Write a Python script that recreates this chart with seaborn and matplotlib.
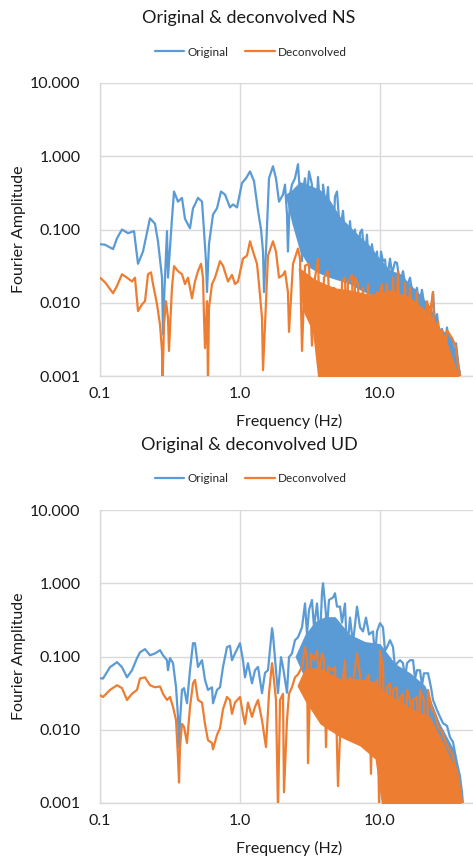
import numpy as np
import matplotlib
matplotlib.use("Agg")
import matplotlib.pyplot as plt
from matplotlib.ticker import NullLocator, FixedLocator, FixedFormatter
import seaborn as sns

# ---------------- DATA ----------------
series_names = ["Original", "Deconvolved"]
panel_titles = ["Original & deconvolved NS", "Original & deconvolved UD"]
x_ticks = [0.1, 1.0, 10.0]
x_tick_labels = ["0.1", "1.0", "10.0"]
y_ticks = [0.001, 0.01, 0.1, 1.0, 10.0]
y_tick_labels = ["0.001", "0.010", "0.100", "1.000", "10.000"]

# NS - Original
ns_orig_f = [0.1, 0.1086, 0.1239, 0.1323, 0.1436, 0.1585, 0.175, 0.1868, 0.2028, 0.2276, 0.247, 0.2596,
             0.2773, 0.2818, 0.2865, 0.301, 0.306, 0.3266, 0.3378, 0.3606, 0.385, 0.4046, 0.4394, 0.4616,
             0.477, 0.501, 0.5354, 0.5534, 0.5715, 0.581, 0.6003, 0.6414, 0.685, 0.7315, 0.7814, 0.848,
             0.891, 0.952, 1.033, 1.104, 1.179, 1.259, 1.345, 1.413, 1.46, 1.484, 1.533, 1.611, 1.72,
             1.807, 1.9, 2.028, 2.096, 2.166, 2.2, 2.275, 2.35, 2.47, 2.596, 2.683, 2.773, 2.818, 2.913,
             3.01, 3.11, 3.266, 3.434, 3.606, 3.727, 3.85, 3.917, 4.115, 4.253, 4.39, 4.54, 4.77, 4.93,
             5.18, 5.44, 5.623, 5.81, 6.105, 6.31, 6.63, 6.96, 7.2, 7.44, 7.81, 8.07, 8.48, 8.76, 9.21,
             9.52, 9.84, 10.16, 10.5, 10.86, 11.22, 11.79, 12.18, 12.8, 13.22, 13.89, 14.6, 15.34, 16.38,
             17.21, 18.37, 18.99, 19.95, 20.96, 21.66, 22.76, 23.91, 24.7, 25.55, 26.83, 27.73, 29.1,
             30.1, 31.62, 32.66, 33.8, 34.9, 36.06, 37.28, 38.5]
ns_orig_a = [0.063, 0.062, 0.054, 0.076, 0.1, 0.089, 0.095, 0.034, 0.05, 0.142, 0.12, 0.069,
             0.022, 0.0037, 0.0105, 0.095, 0.022, 0.14, 0.33, 0.24, 0.27, 0.14, 0.104, 0.195,
             0.22, 0.27, 0.24, 0.095, 0.037, 0.014, 0.063, 0.16, 0.195, 0.33, 0.3, 0.2,
             0.22, 0.2, 0.43, 0.5, 0.62, 0.46, 0.18, 0.1, 0.05, 0.014, 0.05, 0.5, 0.73,
             0.5, 0.24, 0.3, 0.41, 0.16, 0.05, 0.3, 0.41, 0.5, 0.78, 0.3, 0.037, 0.35, 0.5,
             0.25, 0.62, 0.41, 0.058, 0.52, 0.2, 0.05, 0.41, 0.2, 0.38, 0.12, 0.03, 0.28, 0.33,
             0.09, 0.18, 0.08, 0.022, 0.13, 0.06, 0.1, 0.018, 0.09, 0.1, 0.04, 0.085, 0.018, 0.063, 0.03,
             0.05, 0.014, 0.05, 0.037, 0.039, 0.02, 0.04, 0.025, 0.036, 0.035, 0.018, 0.027, 0.015, 0.022,
             0.012, 0.016, 0.009, 0.015, 0.008, 0.0095, 0.006, 0.014, 0.005, 0.007, 0.003, 0.0044, 0.0025,
             0.0046, 0.002, 0.0033, 0.0018, 0.0028, 0.0016, 0.001, 0.0008]
ns_orig_band_f = [2.1, 2.35, 2.68, 3.16, 3.73, 4.39, 5.18, 6.1, 7.2, 8.48, 10.0, 11.79, 13.89, 16.38,
                  19.31, 22.76, 26.83, 31.62, 37.28]
ns_orig_band_lo = [0.3, 0.12, 0.05, 0.03, 0.025, 0.022, 0.02, 0.018, 0.015, 0.013, 0.011, 0.009, 0.007,
                   0.005, 0.004, 0.003, 0.002, 0.0012, 0.0009]
ns_orig_band_hi = [0.3, 0.35, 0.45, 0.4, 0.35, 0.25, 0.15, 0.11, 0.08, 0.06, 0.04, 0.028, 0.025,
                   0.018, 0.013, 0.009, 0.0045, 0.0035, 0.0012]

# NS - Deconvolved
ns_dec_f = [0.1, 0.1086, 0.114, 0.1239, 0.1323, 0.1436, 0.156, 0.1693, 0.1778, 0.1868, 0.1995, 0.2096,
            0.2202, 0.2313, 0.2391, 0.2555, 0.2683, 0.2773, 0.2796, 0.2865, 0.296, 0.306, 0.311, 0.3266,
            0.3378, 0.3606, 0.385, 0.4046, 0.4253, 0.454, 0.477, 0.501, 0.5266, 0.544, 0.5534, 0.5623,
            0.581, 0.5905, 0.6003, 0.631, 0.663, 0.7197, 0.7561, 0.821, 0.8764, 0.921, 0.968, 1.05,
            1.122, 1.179, 1.239, 1.322, 1.367, 1.436, 1.46, 1.509, 1.585, 1.72, 1.807, 1.9, 2.028,
            2.096, 2.2, 2.239, 2.391, 2.596, 2.683, 2.773, 2.913, 3.11, 3.266, 3.434, 3.606, 3.79,
            3.98, 4.253, 4.467, 4.69, 5.01, 5.18, 5.354, 5.623, 5.81, 5.9, 6.31, 6.52, 6.63, 6.96,
            7.2, 7.56, 7.81, 8.21, 8.48, 8.76, 9.06, 9.52, 10.0, 10.33, 10.68, 11.22, 11.79, 12.39,
            12.8, 13.45, 13.89, 15.09, 15.6, 16.38, 17.21, 18.37, 18.99, 19.95, 20.6, 21.66, 22.76,
            23.91, 24.7, 25.96, 26.83, 27.73, 29.1, 30.1, 32.66, 34.9, 36.06, 37.28, 37.9]
ns_dec_a = [0.022, 0.019, 0.0168, 0.0135, 0.017, 0.0245, 0.022, 0.0195, 0.022, 0.0077, 0.0095, 0.0105,
            0.0245, 0.026, 0.018, 0.0095, 0.005, 0.0022, 0.0008, 0.005, 0.0105, 0.0062, 0.0022, 0.016,
            0.0316, 0.027, 0.0245, 0.018, 0.022, 0.0115, 0.0195, 0.027, 0.034, 0.022, 0.0062, 0.0024,
            0.0105, 0.0008, 0.0085, 0.018, 0.022, 0.037, 0.032, 0.0195, 0.024, 0.018, 0.0195, 0.04,
            0.044, 0.069, 0.05, 0.034, 0.018, 0.0062, 0.0012, 0.005, 0.044, 0.069, 0.05, 0.022, 0.024,
            0.027, 0.014, 0.004, 0.034, 0.055, 0.04, 0.0022, 0.032, 0.034, 0.0026, 0.022, 0.04, 0.0013,
            0.022, 0.027, 0.0022, 0.016, 0.013, 0.0015, 0.0195, 0.022, 0.002, 0.0195, 0.024, 0.0015, 0.022, 0.018,
            0.003, 0.016, 0.0012, 0.018, 0.004, 0.013, 0.0015, 0.014, 0.013, 0.018, 0.002, 0.018, 0.0015, 0.022,
            0.003, 0.027, 0.001, 0.019, 0.002, 0.016, 0.0012, 0.014, 0.002, 0.0085, 0.0012, 0.0105, 0.0068,
            0.014, 0.0015, 0.0056, 0.0012, 0.0042, 0.0015, 0.0042, 0.0033, 0.0025, 0.0014, 0.001, 0.0008]
ns_dec_band_f = [2.6, 2.8, 3.3, 3.6, 4.77, 6.1, 8.48, 11.79, 16.38, 22.76, 29.1, 37.28]
ns_dec_band_lo = [0.03, 0.008, 0.004, 0.0009, 0.0009, 0.0009, 0.0009, 0.0009, 0.0009, 0.0009, 0.0009, 0.0009]
ns_dec_band_hi = [0.03, 0.028, 0.022, 0.02, 0.016, 0.015, 0.013, 0.015, 0.012, 0.007, 0.0035, 0.0009]

# UD - Original
ud_orig_f = [0.1, 0.1051, 0.1179, 0.1323, 0.1436, 0.156, 0.1693, 0.1838, 0.1931, 0.2096, 0.2276, 0.247,
             0.2683, 0.2818, 0.301, 0.306, 0.3162, 0.3323, 0.3492, 0.3606, 0.3667, 0.3728, 0.385, 0.3981,
             0.4182, 0.4394, 0.4616, 0.477, 0.501, 0.5354, 0.5623, 0.5905, 0.631, 0.6414, 0.685, 0.7197,
             0.7561, 0.8076, 0.848, 0.8764, 0.921, 1.0, 1.05, 1.086, 1.14, 1.218, 1.28, 1.345, 1.436,
             1.509, 1.585, 1.693, 1.72, 1.807, 1.868, 1.963, 2.028, 2.166, 2.239, 2.35, 2.47, 2.596,
             2.773, 2.913, 3.01, 3.11, 3.266, 3.378, 3.548, 3.727, 3.85, 3.917, 4.05, 4.182, 4.322,
             4.62, 4.77, 4.93, 5.18, 5.354, 5.623, 5.81, 6.105, 6.41, 6.85, 7.2, 7.56, 7.94, 8.35,
             8.91, 9.21, 9.52, 10.0, 10.5, 10.86, 11.22, 11.79, 12.39, 12.8, 13.22, 13.89, 14.6, 15.09,
             15.6, 16.38, 17.21, 17.78, 18.37, 19.31, 19.95, 20.6, 22.03, 23.13, 23.91, 25.55, 26.83,
             28.18, 30.1, 31.62, 33.2, 35.48, 37.28, 38.5, 39.1, 39.8]
ud_orig_a = [0.0506, 0.05, 0.0715, 0.0837, 0.0715, 0.052, 0.065, 0.095, 0.114, 0.126, 0.104, 0.11,
             0.122, 0.104, 0.089, 0.065, 0.095, 0.081, 0.038, 0.015, 0.0058, 0.013, 0.035, 0.037,
             0.023, 0.065, 0.152, 0.152, 0.072, 0.089, 0.048, 0.035, 0.038, 0.023, 0.035, 0.038,
             0.072, 0.134, 0.14, 0.089, 0.11, 0.152, 0.089, 0.052, 0.081, 0.043, 0.065, 0.072, 0.0316,
             0.06, 0.065, 0.243, 0.2, 0.065, 0.0316, 0.098, 0.072, 0.032, 0.098, 0.11, 0.167, 0.183,
             0.25, 0.53, 0.2, 0.43, 0.59, 0.25, 0.53, 0.167, 0.73, 1.0, 0.53, 0.25, 0.59,
             0.64, 0.73, 0.48, 0.48, 0.29, 0.53, 0.11, 0.34, 0.152, 0.48, 0.25, 0.22, 0.34, 0.2,
             0.22, 0.1, 0.22, 0.285, 0.25, 0.12, 0.134, 0.167, 0.134, 0.07, 0.081, 0.089, 0.081, 0.05,
             0.081, 0.089, 0.089, 0.05, 0.065, 0.065, 0.04, 0.059, 0.059, 0.038, 0.0255, 0.0185, 0.015,
             0.0123, 0.0113, 0.0079, 0.0068, 0.0035, 0.0023, 0.0014, 0.001, 0.0008]
ud_orig_band_f = [2.47, 2.91, 3.43, 4.05, 4.77, 6.1, 7.81, 10.0, 12.8, 16.38, 20.96, 26.83, 34.3, 39.1]
ud_orig_band_lo = [0.1, 0.05, 0.035, 0.03, 0.03, 0.025, 0.02, 0.015, 0.008, 0.004, 0.002, 0.0009, 0.0009, 0.0009]
ud_orig_band_hi = [0.1, 0.2, 0.3, 0.35, 0.35, 0.2, 0.16, 0.15, 0.08, 0.06, 0.04, 0.012, 0.005, 0.0009]

# UD - Deconvolved
ud_dec_f = [0.1, 0.1051, 0.1179, 0.1323, 0.1436, 0.156, 0.1693, 0.1838, 0.1931, 0.2096, 0.2276, 0.247,
            0.2683, 0.2818, 0.301, 0.3162, 0.3323, 0.3492, 0.3606, 0.3667, 0.3728, 0.385, 0.3981, 0.4182,
            0.4394, 0.4616, 0.477, 0.501, 0.5354, 0.5623, 0.5905, 0.631, 0.6414, 0.685, 0.7197, 0.7561,
            0.8076, 0.848, 0.8764, 0.921, 1.0, 1.05, 1.086, 1.14, 1.218, 1.28, 1.345, 1.436, 1.533,
            1.611, 1.693, 1.72, 1.807, 1.868, 1.931, 2.028, 2.061, 2.166, 2.239, 2.35, 2.47, 2.596,
            2.773, 2.913, 3.01, 3.06, 3.215, 3.378, 3.548, 3.667, 3.85, 3.98, 4.115, 4.253, 4.54,
            4.77, 5.01, 5.354, 5.623, 5.81, 6.105, 6.41, 6.85, 7.2, 7.56, 7.94, 8.35, 8.62, 8.91,
            9.52, 9.84, 10.0, 10.5, 10.86, 11.22, 11.79, 12.18, 12.39, 13.22, 13.67, 13.89, 14.6,
            15.09, 15.6, 16.38, 16.93, 17.21, 18.37, 18.99, 19.31, 20.6, 21.31, 22.03, 23.5, 24.7,
            25.96, 27.73, 29.1, 30.6, 32.66, 34.3, 36.06, 37.9, 38.5, 39.1]
ud_dec_a = [0.0296, 0.028, 0.035, 0.0405, 0.037, 0.0255, 0.031, 0.035, 0.05, 0.052, 0.0405, 0.038,
            0.039, 0.031, 0.0255, 0.028, 0.0205, 0.0135, 0.0042, 0.0019, 0.0058, 0.012, 0.011, 0.0066,
            0.0205, 0.043, 0.048, 0.0255, 0.0235, 0.012, 0.0072, 0.0066, 0.0054, 0.0085, 0.0105, 0.019,
            0.028, 0.0255, 0.0165, 0.0235, 0.028, 0.0165, 0.012, 0.0235, 0.015, 0.0205, 0.0255, 0.0135, 0.0058,
            0.031, 0.081, 0.065, 0.0255, 0.0008, 0.0255, 0.031, 0.0014, 0.0135, 0.031, 0.038, 0.052, 0.057,
            0.072, 0.134, 0.089, 0.0035, 0.11, 0.089, 0.12, 0.052, 0.11, 0.089, 0.0058, 0.072, 0.065,
            0.072, 0.0017, 0.038, 0.089, 0.011, 0.052, 0.043, 0.11, 0.057, 0.0058, 0.048, 0.057, 0.0025, 0.038,
            0.048, 0.001, 0.12, 0.072, 0.002, 0.038, 0.043, 0.0012, 0.035, 0.038, 0.0015, 0.028, 0.031,
            0.001, 0.035, 0.0255, 0.0012, 0.0255, 0.028, 0.0015, 0.035, 0.0255, 0.001, 0.035, 0.019, 0.0165,
            0.011, 0.0093, 0.0072, 0.0058, 0.0047, 0.0033, 0.0024, 0.0013, 0.001, 0.0008]
ud_dec_band_f = [2.55, 2.91, 3.73, 5.18, 7.2, 9.21, 10.3, 16.38, 22.76, 29.1, 34.3, 38.5]
ud_dec_band_lo = [0.04, 0.025, 0.012, 0.008, 0.006, 0.004, 0.0009, 0.0009, 0.0009, 0.0009, 0.0009, 0.0009]
ud_dec_band_hi = [0.04, 0.07, 0.07, 0.05, 0.05, 0.045, 0.035, 0.02, 0.015, 0.006, 0.003, 0.0009]

# ---------------- STYLE ----------------
sns.set_style("white")
plt.rcParams["font.family"] = ["Lato", "DejaVu Sans"]

BLUE = "#5B9BD5"
ORANGE = "#ED7D31"
GRID = "#D9D9D9"
TXT = "#1a1a1a"

W, H = 473, 857
fig = plt.figure(figsize=(W / 100, H / 100), dpi=100)

x_min, x_max = 0.1, 50.0
dec_px = 140.0
ax_w_px = dec_px * np.log10(x_max / x_min)
ax_h_px = 293.0

panels = [
    dict(title=panel_titles[0], top=83,
         orig=(ns_orig_f, ns_orig_a), orig_band=(ns_orig_band_f, ns_orig_band_lo, ns_orig_band_hi),
         dec=(ns_dec_f, ns_dec_a), dec_band=(ns_dec_band_f, ns_dec_band_lo, ns_dec_band_hi)),
    dict(title=panel_titles[1], top=510,
         orig=(ud_orig_f, ud_orig_a), orig_band=(ud_orig_band_f, ud_orig_band_lo, ud_orig_band_hi),
         dec=(ud_dec_f, ud_dec_a), dec_band=(ud_dec_band_f, ud_dec_band_lo, ud_dec_band_hi)),
]

for p in panels:
    top = p["top"]
    ax = fig.add_axes([100 / W, 1 - (top + ax_h_px) / H, ax_w_px / W, ax_h_px / H])
    ax.set_xscale("log")
    ax.set_yscale("log")

    bf, blo, bhi = p["orig_band"]
    ax.fill_between(bf, blo, bhi, color=BLUE, linewidth=0, zorder=2)
    sns.lineplot(x=p["orig"][0], y=p["orig"][1], ax=ax, color=BLUE, linewidth=1.6,
                 estimator=None, sort=False, label=series_names[0], zorder=3)
    bf, blo, bhi = p["dec_band"]
    ax.fill_between(bf, blo, bhi, color=ORANGE, linewidth=0, zorder=4)
    sns.lineplot(x=p["dec"][0], y=p["dec"][1], ax=ax, color=ORANGE, linewidth=1.6,
                 estimator=None, sort=False, label=series_names[1], zorder=5)

    ax.set_xlim(x_min, x_max)
    ax.set_ylim(0.001, 10.0)
    ax.xaxis.set_major_locator(FixedLocator(x_ticks))
    ax.xaxis.set_major_formatter(FixedFormatter(x_tick_labels))
    ax.yaxis.set_major_locator(FixedLocator(y_ticks))
    ax.yaxis.set_major_formatter(FixedFormatter(y_tick_labels))
    ax.xaxis.set_minor_locator(NullLocator())
    ax.yaxis.set_minor_locator(NullLocator())
    ax.grid(True, which="major", color=GRID, linewidth=1.0, zorder=0)
    ax.set_axisbelow(True)
    for s in ["top", "right"]:
        ax.spines[s].set_visible(False)
    for s in ["left", "bottom"]:
        ax.spines[s].set_color(GRID)
        ax.spines[s].set_linewidth(1.0)
    ax.tick_params(axis="y", length=0, pad=14, labelsize=11.5, labelcolor=TXT)
    ax.tick_params(axis="x", length=0, pad=8, labelsize=11.5, labelcolor=TXT)

    ax.set_xlabel("Frequency (Hz)", fontsize=11.5, color=TXT)
    ax.set_ylabel("Fourier Amplitude", fontsize=11.5, color=TXT)
    ax.xaxis.set_label_coords((289.5 - 100) / ax_w_px, -38 / ax_h_px)
    ax.yaxis.set_label_coords((26 - 100) / ax_w_px, 0.5)

    ax.legend(loc="center", bbox_to_anchor=((251 - 100) / ax_w_px, 1 + 31 / ax_h_px), ncol=2,
              frameon=False, fontsize=8.5, handlelength=2.5, handletextpad=0.3, columnspacing=1.4)

    fig.text(249 / W, 1 - (top - 65) / H, p["title"], ha="center", va="center", fontsize=13,
             color=TXT)

fig.savefig("out.png", dpi=100)
